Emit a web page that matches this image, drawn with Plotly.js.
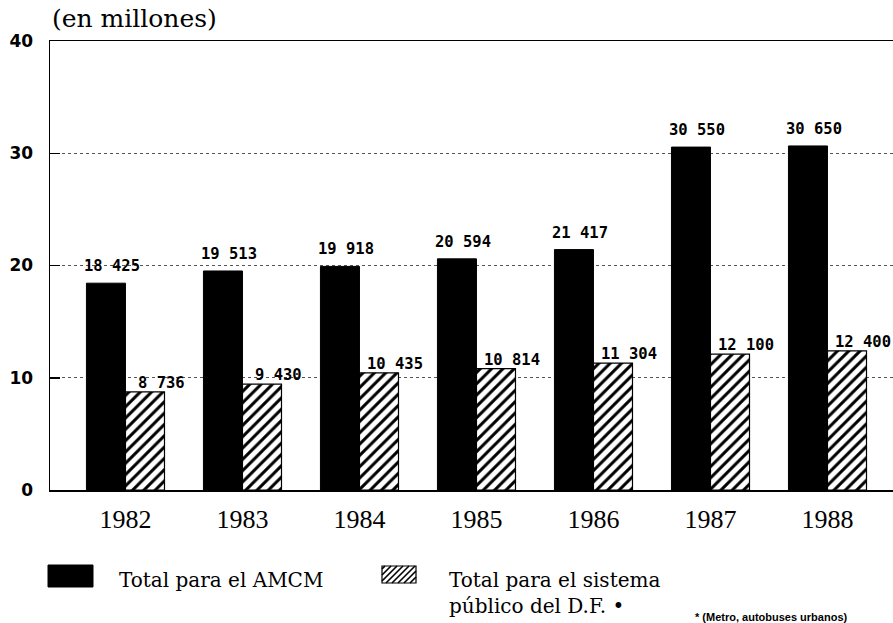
<!DOCTYPE html>
<html>
<head>
<meta charset="utf-8">
<script src="https://cdn.plot.ly/plotly-3.0.1.min.js"></script>
<style>html,body{margin:0;padding:0;background:#fff;}#chart{width:893px;height:623px;}</style>
</head>
<body>
<div id="chart"></div>
<script>
// Data (values in thousands; axis in millions)
const years = ['1982', '1983', '1984', '1985', '1986', '1987', '1988'];
const totalAMCM = [18425, 19513, 19918, 20594, 21417, 30550, 30650];
const totalPublicoDF = [8736, 9430, 10435, 10814, 11304, 12100, 12400];
const yTicks = [0, 10, 20, 30, 40];
const seriesNames = ['Total para el AMCM', 'Total para el sistema<br>público del D.F. •'];
const footnote = '* (Metro, autobuses urbanos)';

function fmt(v) {
  const th = Math.floor(v / 1000);
  const r = String(v % 1000).padStart(3, '0');
  return th + ' ' + r;
}
const toM = a => a.map(v => v / 1000);

const traceA = {
  type: 'bar', x: years, y: toM(totalAMCM), name: seriesNames[0],
  marker: {color: '#000', line: {color: '#000', width: 1}},
  showlegend: false, hoverinfo: 'x+y'
};
const traceB = {
  type: 'bar', x: years, y: toM(totalPublicoDF), name: seriesNames[1],
  marker: {color: '#fff', line: {color: '#000', width: 1.2},
    pattern: {shape: '/', fgcolor: '#000', bgcolor: '#fff', size: 8, solidity: 0.38}},
  showlegend: false, hoverinfo: 'x+y'
};

const labelFont = {family: 'DejaVu Sans Mono', size: 15.5, color: '#000'};
const annotations = [];
years.forEach((yr, i) => {
  annotations.push({x: i, y: totalAMCM[i] / 1000, xref: 'x', yref: 'y', text: '<b>' + fmt(totalAMCM[i]) + '</b>',
    showarrow: false, xshift: -13, yshift: 17, yanchor: 'middle', font: labelFont});
  annotations.push({x: i, y: totalPublicoDF[i] / 1000, xref: 'x', yref: 'y', text: '<b>' + fmt(totalPublicoDF[i]) + '</b>',
    showarrow: false, xshift: 36, yshift: 9, yanchor: 'middle', font: labelFont});
});

// Legend texts
const legFont = {family: 'DejaVu Serif', size: 20, color: '#000'};
annotations.push({xref: 'paper', yref: 'paper', x: 0, y: 0, xshift: 67, yshift: -90, xanchor: 'left', yanchor: 'middle',
  text: seriesNames[0], showarrow: false, font: legFont});
annotations.push({xref: 'paper', yref: 'paper', x: 0, y: 0, xshift: 397, yshift: -103, xanchor: 'left', yanchor: 'middle',
  text: seriesNames[1], showarrow: false, font: legFont, align: 'left'});
annotations.push({xref: 'paper', yref: 'paper', x: 0, y: 0, xshift: 643, yshift: -127, xanchor: 'left', yanchor: 'middle',
  text: '<b>' + footnote + '</b>', showarrow: false,
  font: {family: 'Liberation Sans Narrow, Liberation Sans', size: 11, color: '#000'}});

// Legend boxes
const shapes = [];
shapes.push({type: 'rect', xref: 'paper', yref: 'paper', xsizemode: 'pixel', ysizemode: 'pixel', xanchor: 0, yanchor: 0,
  x0: -2, x1: 43, y0: -75, y1: -97, fillcolor: '#000', line: {color: '#000', width: 1}});
const hx0 = 332, hx1 = 366, hy0 = -93, hy1 = -76;
let p = '';
for (let k = hx0 - 20; k < hx1; k += 6) {
  let xa = k, ya = hy0, xb = k + (hy1 - hy0), yb = hy1;
  if (xa < hx0) { ya += (hx0 - xa); xa = hx0; }
  if (xb > hx1) { yb -= (xb - hx1); xb = hx1; }
  if (xa < xb) p += `M${xa},${ya}L${xb},${yb}`;
}
shapes.push({type: 'rect', xref: 'paper', yref: 'paper', xsizemode: 'pixel', ysizemode: 'pixel', xanchor: 0, yanchor: 0,
  x0: hx0, x1: hx1, y0: hy0, y1: hy1, fillcolor: '#fff', line: {color: '#000', width: 1.2}});
shapes.push({type: 'path', xref: 'paper', yref: 'paper', xsizemode: 'pixel', ysizemode: 'pixel', xanchor: 0, yanchor: 0,
  path: p, line: {color: '#000', width: 1.6}});

const layout = {
  width: 893, height: 623,
  margin: {l: 50, r: 0, t: 41, b: 133, pad: 0},
  paper_bgcolor: '#fff', plot_bgcolor: '#fff',
  barmode: 'group', bargap: 0.333, bargroupgap: 0,
  showlegend: false,
  title: {text: '(en millones)', xref: 'container', yref: 'container', x: 52 / 893, xanchor: 'left',
    y: 1 - 18 / 623, yanchor: 'middle', font: {family: 'DejaVu Serif', size: 25, color: '#000'}},
  xaxis: {
    type: 'category', range: [-0.645, 6.56], showgrid: false, zeroline: false,
    showline: true, mirror: true, linecolor: '#000', linewidth: 1.5, ticks: '',
    tickvals: years, ticktext: years, ticklabelstandoff: 5,
    tickfont: {family: 'Liberation Serif', size: 26, color: '#000'}
  },
  yaxis: {
    range: [0, 40], tickvals: yTicks, ticktext: yTicks.map(String),
    showgrid: true, gridcolor: '#555', griddash: 'dot', gridwidth: 1,
    zeroline: false, showline: true, linecolor: '#000', linewidth: 1.5,
    ticks: 'inside', ticklen: 10, tickwidth: 1.5, tickcolor: '#000', ticklabelstandoff: 12,
    tickfont: {family: 'DejaVu Sans', size: 17, color: '#000', weight: 'bold'}
  },
  annotations: annotations,
  shapes: shapes
};

Plotly.newPlot('chart', [traceA, traceB], layout, {displayModeBar: false, staticPlot: true});
</script>
</body>
</html>
